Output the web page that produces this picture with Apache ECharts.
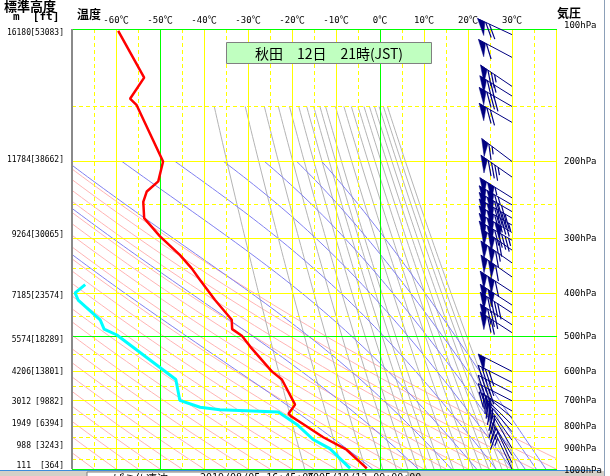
<!DOCTYPE html>
<html><head><meta charset="utf-8">
<script src="https://cdn.jsdelivr.net/npm/echarts@6/dist/echarts.min.js"></script>
<style>html,body{margin:0;padding:0;background:#fff}#c{width:610px;height:476px}</style>
</head><body><div id="c"></div>
<script>
// ---------------- data ----------------
// temperature profile (red)
const tempPres = [101,129,144,149,200,222,234,247,269,296,326,350,372,413,458,481,498,527,600,626,714,749,760,847,904,997];
const tempVal  = [-59.5,-53.6,-56.8,-55.3,-49.3,-50.4,-53.0,-53.8,-53.6,-50.0,-45.5,-42.8,-40.9,-37.5,-33.7,-33.6,-31.4,-29.5,-24.6,-22.3,-19.3,-20.8,-20.1,-12.9,-7.6,-3.0];
// dew point profile (cyan)
const dewPres = [381,398,413,458,481,496,626,698,724,733,742,792,857,899,997];
const dewVal  = [-67.0,-69.3,-68.6,-63.6,-62.7,-59.8,-46.4,-45.5,-40.9,-36.4,-23.1,-18.9,-15.2,-11.4,-6.8];
// winds: pressure (hPa), direction (deg), speed (kt)
const windPres = [103,116,135,142,150,163,200,217,242,251,260,269,279,290,302,318,340,366,396,424,442,470,490,600,636,670,700,738,764,794,823,860,897,932,968,1000];
const windDir  = [295,298,304,302,300,300,307,305,302,300,300,300,300,300,300,305,305,305,303,303,303,303,303,297,297,297,297,300,310,315,320,325,330,330,335,335];
const windSpd  = [70,60,75,75,80,70,65,85,105,115,130,140,145,150,145,120,115,110,110,100,90,80,70,50,40,40,40,35,30,30,25,25,20,20,15,15];
// axis ticks / labels
const tempLabelTicks = [-60,-50,-40,-30,-20,-10,0,10,20,30];
const levelPres  = [100,200,300,400,500,600,700,800,900,1000];
const levelHeightM  = [16180,11784,9264,7185,5574,4206,3012,1949,988,111];
const levelHeightFt = [53083,38662,30065,23574,18289,13801,9882,6394,3243,364];
// grid lines
const tSolid  = [-60,-40,-30,-20,-10,10,20,30,40];
const tDashed = [-65,-55,-45,-35,-25,-15,-5,5,15,25,35];
const tGreen  = [-50,0];
const pSolid  = [200,300,400,600,700,800,900];
const pDashed = [150,250,350,450,550,650,750,850,950];
const pGreen  = [100,500,1000];
// isopleth parameters
const dryAdiabatC = [-70,-65,-60,-55,-50,-45,-40,-35,-30,-25,-20,-15,-10,-5,0,5,10,15,20,25,30,35,40,45];
const thetaEK = [280,300,320,340,360,380,400,420,440];
const mixRatio = [1,2,3,4,5,6,7,8,9,10,12,14,16,18,20,22,24,26,28,30];

// ---------------- layout / styles ----------------
const leftShift  = [4,-2,-4,2,3,0.5,1,-2.5,-3.3,-3.2];
const rightShift = [-3,0,0,0,0,0,0,0,0,2];
const MONO = '"DejaVu Sans Mono","Noto Sans CJK JP",monospace';
const JP = '"Noto Sans CJK JP",sans-serif';

// ---------------- thermodynamic helpers for background isopleths ----------------
function logSpace(p0,p1,n){const a=[];for(let i=0;i<=n;i++)a.push(p0*Math.pow(p1/p0,i/n));return a;}
function esat(tc){return 6.112*Math.exp(17.67*tc/(tc+243.5));}
function thetaE(tk,p){const e=esat(tk-273.15);if(e>0.5*p)return 1e9;const r=0.622*e/(p-e);return tk*Math.pow(1000/p,0.2857)*Math.exp(2.5e6*r/(1005*tk));}
function solveTe(te,p){let lo=150,hi=340;for(let i=0;i<60;i++){const m=(lo+hi)/2;if(thetaE(m,p)>te)hi=m;else lo=m;}return (lo+hi)/2-273.15;}
function mixT(w,p){const e=w*p/(622+w);const l=Math.log(e/6.112);return 243.5*l/(17.67-l);}

const series = [];
function iso(data,color){series.push({type:'line',data:data,showSymbol:false,silent:true,clip:true,z:1,animation:false,lineStyle:{color:color,width:1}});}
dryAdiabatC.forEach(th=>{iso(logSpace(200,1000,60).map(p=>[(th+273.15)*Math.pow(p/1000,0.2857)-273.15,p]),'#ffb4b4');});
mixRatio.forEach(w=>{iso(logSpace(150,1000,60).map(p=>[mixT(w,p),p]),'#b4b4b4');});
thetaEK.forEach(te=>{iso(logSpace(200,1000,80).map(p=>[solveTe(te,p),p]),'#8080f0');});

// grid lines: custom series, crisp pixel-snapped (rows: [T, p, orientation 0=v/1=h, kind])
const gridRows = [];
tDashed.forEach(t=>gridRows.push([t,100,0,1]));
pDashed.forEach(p=>gridRows.push([-70,p,1,1]));
tSolid.forEach(t=>gridRows.push([t,100,0,0]));
pSolid.forEach(p=>gridRows.push([-70,p,1,0]));
tGreen.forEach(t=>gridRows.push([t,100,0,2]));
pGreen.forEach(p=>gridRows.push([-70,p,1,2]));
gridRows.push([-70,100,0,3]);
const kindColor = ['#ffff00','#ffff00','#00ff00','#8a8a8a'];
series.push({type:'custom',z:10,silent:true,animation:false,clip:false,encode:{x:0,y:1},data:gridRows,
  renderItem:function(params,api){
    const o=api.value(2), k=api.value(3), col=kindColor[k];
    const tl=api.coord([-70,100]), br=api.coord([40,1000]);
    if(o===0){
      const x=Math.floor(api.coord([api.value(0),100])[0]);
      if(k===1) return {type:'line',shape:{x1:x+0.5,y1:tl[1],x2:x+0.5,y2:br[1]},style:{stroke:col,lineWidth:1,lineDash:[4,3]}};
      const w=(k===3)?2:1;
      return {type:'rect',shape:{x:x-(k===3?1:0),y:tl[1],width:w,height:br[1]-tl[1]},style:{fill:col}};
    }
    const y=Math.floor(api.coord([-70,api.value(1)])[1]);
    if(k===1) return {type:'line',shape:{x1:tl[0],y1:y+0.5,x2:br[0]+1,y2:y+0.5},style:{stroke:col,lineWidth:1,lineDash:[4,3]}};
    return {type:'rect',shape:{x:tl[0],y:y,width:br[0]-tl[0]+1,height:1},style:{fill:col}};
  }});

// profiles
series.push({type:'line',data:tempPres.map((p,i)=>[tempVal[i],p]),showSymbol:false,silent:true,z:12,animation:false,lineStyle:{color:'#ff0000',width:2.5}});
series.push({type:'line',data:dewPres.map((p,i)=>[dewVal[i],p]),showSymbol:false,silent:true,z:12,animation:false,lineStyle:{color:'#00ffff',width:3}});

// wind barbs (station at 30°C column)
const NAVY='#000080';
series.push({type:'custom',z:13,silent:true,animation:false,clip:false,encode:{x:0,y:1},
  data:windPres.map((p,i)=>[30,p,windDir[i],windSpd[i]]),
  renderItem:function(params,api){
    const b=api.coord([api.value(0),api.value(1)]);
    const dir=api.value(2)*Math.PI/180, spd=api.value(3);
    const dx=Math.sin(dir), dy=-Math.cos(dir);
    const L=38, a=-135*Math.PI/180;
    const fx=dx*Math.cos(a)-dy*Math.sin(a), fy=dx*Math.sin(a)+dy*Math.cos(a);
    const pt=s=>[b[0]+dx*s,b[1]+dy*s];
    const ch=[{type:'line',shape:{x1:b[0],y1:b[1],x2:b[0]+dx*L,y2:b[1]+dy*L},style:{stroke:NAVY,lineWidth:1}}];
    let s=L, r=Math.round(spd/5)*5;
    const np=Math.floor(r/50); r-=np*50; const nf=Math.floor(r/10); r-=nf*10; const nh=r>=5?1:0;
    for(let k=0;k<np;k++){const p1=pt(s),p2=pt(s-8);ch.push({type:'polygon',shape:{points:[p1,p2,[p1[0]+fx*18,p1[1]+fy*18]]},style:{fill:NAVY,stroke:NAVY,lineWidth:0.5}});s-=9;}
    for(let k=0;k<nf;k++){const p1=pt(s);ch.push({type:'line',shape:{x1:p1[0],y1:p1[1],x2:p1[0]+fx*16,y2:p1[1]+fy*16},style:{stroke:NAVY,lineWidth:1.2}});s-=4;}
    if(nh){if(np+nf===0)s-=4;const p1=pt(s);ch.push({type:'line',shape:{x1:p1[0],y1:p1[1],x2:p1[0]+fx*8,y2:p1[1]+fy*8},style:{stroke:NAVY,lineWidth:1.2}});}
    return {type:'group',children:ch};
  }});

const baseGraphic = [
  {type:'rect',shape:{x:226.5,y:42.5,width:205,height:21},style:{fill:'#c0ffc0',stroke:'#808080',lineWidth:1},z:20},
  {type:'text',x:329,y:53.5,style:{text:'秋田　12日　21時(JST)',fill:'#000',font:'14px '+JP,align:'center',verticalAlign:'middle'},z:21},
  {type:'text',x:4,y:6,style:{text:'標準高度',fill:'#000',font:'bold 13px '+JP,align:'left',verticalAlign:'middle'}},
  {type:'text',x:13,y:17.5,style:{text:'m  [ft]',fill:'#000',font:'bold 11px '+MONO,align:'left',verticalAlign:'middle'}},
  {type:'text',x:77,y:14,style:{text:'温度',fill:'#000',font:'bold 12px '+JP,align:'left',verticalAlign:'middle'}},
  {type:'text',x:557,y:13.5,style:{text:'気圧',fill:'#000',font:'bold 12px '+JP,align:'left',verticalAlign:'middle'}},
  {type:'line',shape:{x1:0,y1:470.5,x2:600,y2:470.5},style:{stroke:'#3c8cdc',lineWidth:1}},
  {type:'rect',shape:{x:0,y:471,width:604,height:5},style:{fill:'#d4d0c8'}},
  {type:'rect',shape:{x:87,y:472,width:321,height:6},style:{fill:'#ffffff',stroke:'#808080',lineWidth:1}},
  {type:'text',x:113,y:473,style:{text:'ぱミ仏凄波',fill:'#000',font:'11px '+JP,align:'left',verticalAlign:'top'}},
  {type:'text',x:200,y:473,style:{text:'2019/08/05 16:45:06',fill:'#000',font:'10px '+MONO,align:'left',verticalAlign:'top'}},
  {type:'text',x:307,y:473,style:{text:'2005/10/12 09:00:00',fill:'#000',font:'10px '+MONO,align:'left',verticalAlign:'top'}},
  {type:'line',shape:{x1:604.5,y1:0,x2:604.5,y2:476},style:{stroke:'#8ca0b8',lineWidth:1}}
];

const option={
  animation:false,
  backgroundColor:'#ffffff',
  grid:{left:72,top:29,width:484,height:440,show:false},
  xAxis:{type:'value',min:-70,max:40,interval:10,position:'top',
    axisLine:{show:false},axisTick:{show:false},splitLine:{show:false},minorSplitLine:{show:false},
    axisLabel:{margin:4,color:'#000',fontSize:9,fontFamily:MONO,
      formatter:v=>tempLabelTicks.indexOf(v)>=0?(v+'℃'):''}},
  yAxis:{type:'log',logBase:10,min:100,max:1000,inverse:true,show:false,
    axisLine:{show:false},axisTick:{show:false},splitLine:{show:false},minorSplitLine:{show:false},axisLabel:{show:false}},
  series:series,
  graphic:baseGraphic
};
const chart=echarts.init(document.getElementById('c'));
chart.setOption(option);

// level labels placed through the chart's own pressure scale
const labelGraphic = [];
levelPres.forEach((p,i)=>{
  const yl=chart.convertToPixel({gridIndex:0},[-70,p])[1]+leftShift[i];
  const yr=chart.convertToPixel({gridIndex:0},[40,p])[1]+rightShift[i];
  labelGraphic.push({type:'text',x:31,y:yl,style:{text:String(levelHeightM[i]),fill:'#000',font:'8px '+MONO,align:'right',verticalAlign:'middle'}});
  labelGraphic.push({type:'text',x:64,y:yl,style:{text:'['+levelHeightFt[i]+']',fill:'#000',font:'8px '+MONO,align:'right',verticalAlign:'middle'}});
  labelGraphic.push({type:'text',x:564,y:yr,style:{text:p+'hPa',fill:'#000',font:'9px '+MONO,align:'left',verticalAlign:'middle'}});
});
chart.setOption({graphic:baseGraphic.concat(labelGraphic)});
</script></body></html>
